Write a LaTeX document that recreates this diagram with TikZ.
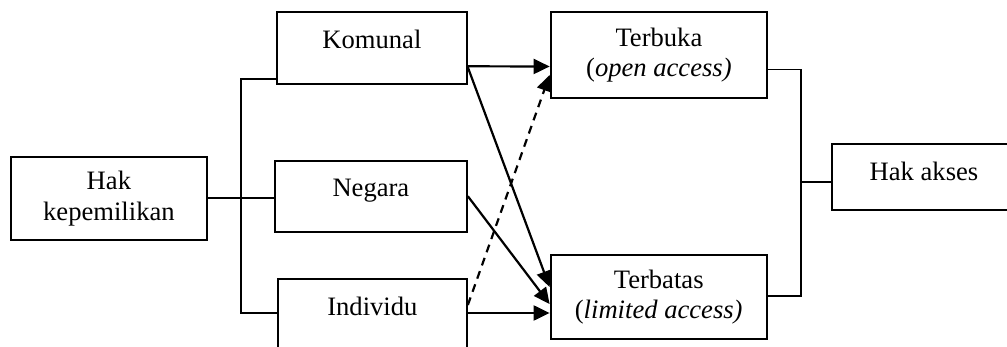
\documentclass[tikz,border=0pt]{standalone}
\usepackage{fontspec}
\setmainfont{Liberation Serif}
\usepackage{tikz}
\usetikzlibrary{arrows.meta,calc}

\begin{document}
\begin{tikzpicture}[x=0.5pt, y=-0.5pt,
    every node/.style={font=\fontsize{13.3}{15.3}\selectfont},
    kotak/.style={draw, line width=1.1pt, align=center, inner sep=2pt},
    satubaris/.style={text height=9pt, text depth=9pt},
    garis/.style={line width=0.9pt},
    panah/.style={line width=1.1pt, -{Triangle[length=8pt,width=7.5pt]}}]
        \useasboundingbox (0,0) rectangle (1007,347);

        % Hak kepemilikan
        \node[kotak, minimum width=97.85pt, minimum height=41.65pt] (milik) at (108.9,198.4) {Hak\\kepemilikan};

        % Komunal, negara, individu
        \node[kotak, satubaris, minimum width=94.85pt, minimum height=36pt] (komunal) at (371.9,48.3) {Komunal};
        \node[kotak, satubaris, minimum width=95.85pt, minimum height=35.5pt] (negara) at (370.9,196.2) {Negara};
        \node[kotak, satubaris, minimum width=94.35pt, minimum height=36pt] (individu) at (372.4,315) {Individu};

        % Terbuka dan terbatas
        \node[kotak, minimum width=108.15pt, minimum height=42.7pt] (terbuka) at (658.9,55) {Terbuka\\(\textit{open access)}};
        \node[kotak, minimum width=108pt, minimum height=42pt] (terbatas) at (658.7,297) {Terbatas\\(\textit{limited access)}};

        % Hak akses
        \node[kotak, text height=9pt, text depth=5.5pt, minimum width=92.3pt, minimum height=32.85pt] (akses) at (924,177.2) {Hak akses};

        % Cabang kiri
        \coordinate (cabangkiri) at (241,199);
        \draw[garis] (milik.east) -- (milik.east -| negara.west);
        \draw[garis] ($(komunal.south west)+(0,-6)$) -| (cabangkiri) |- ($(individu.west)+(0,-1.7)$);

        % Cabang kanan
        \coordinate (cabangkanan) at (800.7,181.7);
        \draw[garis] ($(terbuka.east)+(0,14.5)$) -| (cabangkanan) |- ($(terbatas.east)+(0,-1)$);
        \draw[garis] (cabangkanan) -- (cabangkanan -| akses.west);

        % Panah
        \draw[panah] ($(komunal.east)+(0,18)$) -- ($(terbuka.west)+(0,11.5)$);
        \draw[panah] ($(komunal.east)+(0,19)$) -- ($(terbatas.west)+(0,-10)$);
        \draw[panah] (negara.east) -- ($(terbatas.west)+(0,7)$);
        \draw[panah] ($(individu.east)+(0,-2)$) -- ($(terbatas.west)+(0,16)$);
        \draw[panah, dash pattern=on 4pt off 3pt] ($(individu.east)+(0,-10)$) -- ($(terbuka.west)+(0,20)$);
\end{tikzpicture}
\end{document}
